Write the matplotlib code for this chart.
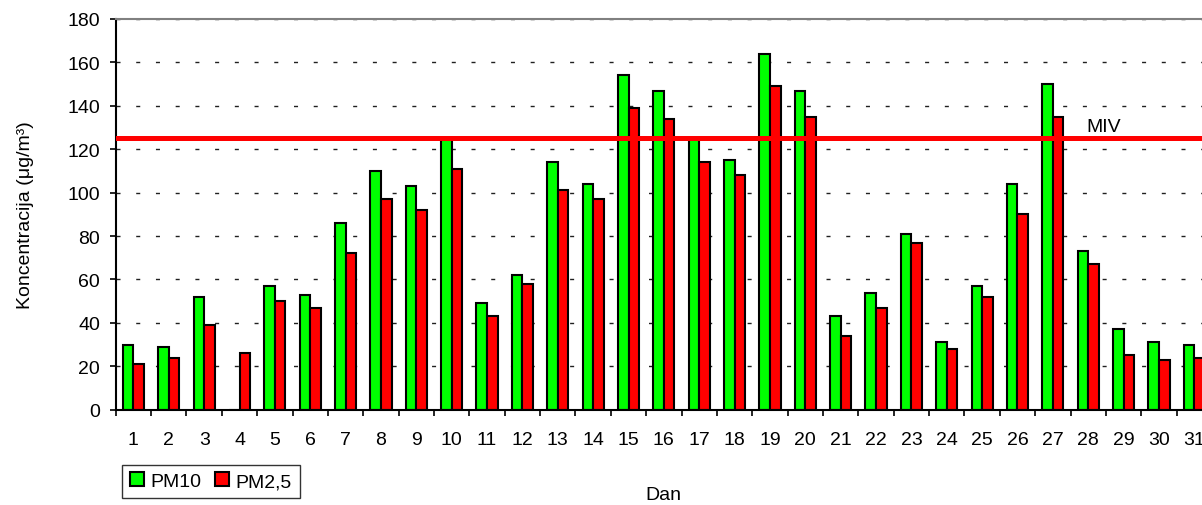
import matplotlib as mpl
mpl.use('Agg')
import matplotlib.pyplot as plt
from matplotlib.patches import Patch
import numpy as np

plt.rcParams['font.family'] = ['Liberation Sans', 'DejaVu Sans']
plt.rcParams['font.size'] = 14

days = [str(d) for d in range(1, 32)]
pm10 = [30, 29, 52, 0, 57, 53, 86, 110, 103, 125, 49, 62, 114, 104, 154,
        147, 125, 115, 164, 147, 43, 54, 81, 31, 57, 104, 150, 73, 37, 31, 30]
pm25 = [21, 24, 39, 26, 50, 47, 72, 97, 92, 111, 43, 58, 101, 97, 139,
        134, 114, 108, 149, 135, 34, 47, 77, 28, 52, 90, 135, 67, 25, 23, 24]
miv = 125

fig = plt.figure(figsize=(12.02, 5.06), dpi=100)
ax = fig.add_axes([0.0963, 0.1883, 0.9120, 0.7722])

x = np.arange(len(days))
w = 0.3
ax.bar(x - w / 2, pm10, w, color='#00ff00', edgecolor='black', linewidth=1.5, zorder=2)
ax.bar(x + w / 2, pm25, w, color='#ff0000', edgecolor='black', linewidth=1.5, zorder=2)

ax.axhline(miv, color='#ff0000', linewidth=3.6, zorder=3)
ax.text(27.45, miv + 1.5, 'MIV', ha='center', va='bottom', fontsize=14)

ax.set_xlim(-0.5, len(days) - 0.5)
ax.set_ylim(0, 180)
ax.set_yticks(range(0, 181, 20))
ax.yaxis.grid(True, color='#202020', linewidth=1, linestyle=(0, (2.9, 11.3)))
ax.set_axisbelow(True)

# category boundaries as major ticks, labels on minor ticks
ax.set_xticks(np.arange(-0.5, len(days), 1))
ax.set_xticklabels([])
ax.set_xticks(x, minor=True)
ax.set_xticklabels(days, minor=True)
ax.tick_params(axis='x', which='major', direction='out', length=4.3, width=1.2)
ax.tick_params(axis='x', which='minor', length=0, pad=15)
ax.tick_params(axis='y', direction='out', length=4.3, width=1.2, pad=7)

for s in ['left', 'bottom']:
    ax.spines[s].set_linewidth(1.5)
ax.spines['top'].set_color('#808080')
ax.spines['top'].set_linewidth(1.5)
ax.spines['right'].set_visible(False)

ax.set_ylabel('Koncentracija (μg/m³)')
ax.yaxis.set_label_coords(-0.075, 0.5)
ax.set_xlabel('Dan')
ax.xaxis.set_label_coords(0.5, -0.195)

handles = [Patch(facecolor='#00ff00', edgecolor='black', linewidth=1.5),
           Patch(facecolor='#ff0000', edgecolor='black', linewidth=1.5)]
leg = fig.legend(handles, ['PM10', 'PM2,5'], loc='lower left',
                 bbox_to_anchor=(122 / 1202, 7 / 506), ncol=2, frameon=True,
                 fancybox=False, edgecolor='black', handlelength=0.72,
                 handleheight=0.72, handletextpad=0.36, columnspacing=0.67,
                 borderpad=0.4, borderaxespad=0)
leg.get_frame().set_linewidth(1)

fig.savefig('out.png', dpi=100)
